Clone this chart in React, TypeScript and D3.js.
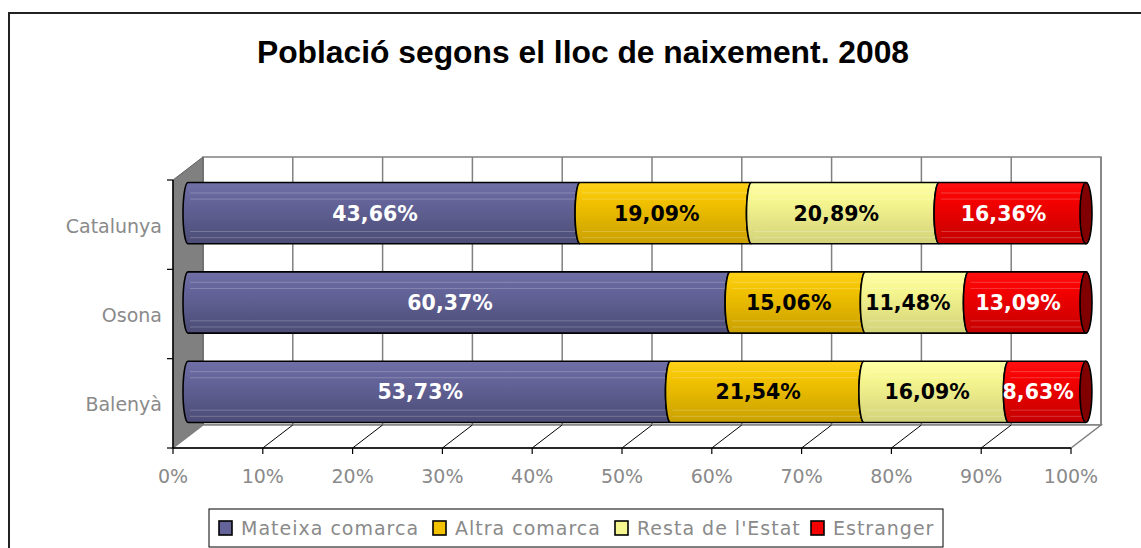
import * as d3 from "d3";

const categories = ["Catalunya", "Osona", "Balenyà"];
const seriesNames = ["Mateixa comarca", "Altra comarca", "Resta de l'Estat", "Estranger"];
const mateixaComarca = [43.66, 60.37, 53.73];
const altraComarca = [19.09, 15.06, 21.54];
const restaEstat = [20.89, 11.48, 16.09];
const estranger = [16.36, 13.09, 8.63];
const xTicks = [0, 10, 20, 30, 40, 50, 60, 70, 80, 90, 100];

// face colours: [top, mid, bottom, end cap, label]
const palette = [
  ["#7070a6", "#64649a", "#4c4c76", "#3a3a5c", "#fff"],
  ["#ffd21a", "#f2c200", "#c9a000", "#8a6d00", "#000"],
  ["#ffffa6", "#f6f690", "#d2d27a", "#9a9a50", "#000"],
  ["#ff1010", "#f40000", "#c40000", "#800000", "#fff"],
];
const legendOffsets = [0, 214, 396, 592];

const W = 1141;
const H = 548;
const left = 173;
const right = 1071;
const top = 180;
const bottom = 448;
const depthX = 30;
const depthY = -23;
const capRx = 5;

export default function App() {
  const rows = categories.map((c, i) => ({
    category: c,
    [seriesNames[0]]: mateixaComarca[i],
    [seriesNames[1]]: altraComarca[i],
    [seriesNames[2]]: restaEstat[i],
    [seriesNames[3]]: estranger[i],
  }));
  const stack = d3.stack<any>().keys(seriesNames)(rows);

  const x = d3.scaleLinear([0, 100], [left, right]);
  const y = d3.scaleBand(categories, [top, bottom]);
  const barH = y.bandwidth() * 0.685;
  const midX = (v: number) => x(v) + depthX / 2;
  const midY = (c: string) => (y(c) ?? 0) + y.bandwidth() / 2 + depthY / 2;

  const segPath = (x0: number, x1: number, t: number, b: number, last: boolean) => {
    const ry = (b - t) / 2;
    return `M${x0},${t}A${capRx},${ry} 0 0 0 ${x0},${b}L${x1},${b}A${capRx},${ry} 0 0 ${last ? 0 : 1} ${x1},${t}Z`;
  };

  const font = "'DejaVu Sans', Verdana, sans-serif";

  return (
    <svg width={W} height={H} style={{ position: "absolute", left: 0, top: 0, display: "block", background: "#fff" }}>
      <defs>
        {palette.map((p, i) => (
          <linearGradient key={i} id={`g${i}`} x1="0" y1="0" x2="0" y2="1">
            <stop offset="0" stopColor={p[0]} />
            <stop offset="0.3" stopColor={p[1]} />
            <stop offset="1" stopColor={p[2]} />
          </linearGradient>
        ))}
      </defs>

      <path d={`M9,${H}V13H${W}`} fill="none" stroke="#222" strokeWidth={2} />

      <text x={583} y={63} textAnchor="middle" fontFamily="'Liberation Sans', Arial, sans-serif"
        fontWeight="bold" fontSize={31.8} fill="#000">Població segons el lloc de naixement. 2008</text>

      {/* back wall */}
      <rect x={left + depthX} y={top + depthY} width={right - left} height={bottom - top}
        fill="#fff" stroke="#808080" strokeWidth={1.5} />
      {xTicks.map(t => (
        <line key={t} x1={x(t) + depthX} x2={x(t) + depthX} y1={top + depthY} y2={bottom + depthY}
          stroke="#808080" strokeWidth={1.5} />
      ))}

      {/* side wall */}
      <polygon points={`${left},${top} ${left + depthX},${top + depthY} ${left + depthX},${bottom + depthY} ${left},${bottom}`}
        fill="#808080" stroke="#606060" strokeWidth={1} />

      {/* floor */}
      <polygon points={`${left},${bottom} ${left + depthX},${bottom + depthY} ${right + depthX},${bottom + depthY} ${right},${bottom}`}
        fill="#fff" stroke="#808080" strokeWidth={1.5} />
      {xTicks.slice(1, -1).map(t => (
        <line key={t} x1={x(t)} y1={bottom} x2={x(t) + depthX} y2={bottom + depthY} stroke="#000" strokeWidth={1} />
      ))}

      {/* axes */}
      <line x1={left} x2={right} y1={bottom} y2={bottom} stroke="#000" strokeWidth={1.5} />
      <line x1={left} x2={left} y1={top} y2={bottom} stroke="#000" strokeWidth={1.5} />
      {xTicks.map(t => (
        <g key={t}>
          <line x1={x(t)} x2={x(t)} y1={bottom} y2={bottom + 6} stroke="#000" strokeWidth={1.2} />
          <text x={x(t)} y={483} textAnchor="middle" fontFamily={font} fontSize={19} fill="#8a8a8a">{t}%</text>
        </g>
      ))}
      {[...categories.map(c => y(c) ?? 0), bottom].map((v, i) => (
        <line key={i} x1={left - 6} x2={left} y1={v} y2={v} stroke="#000" strokeWidth={1.2} />
      ))}
      {categories.map(c => (
        <text key={c} x={162} y={(y(c) ?? 0) + y.bandwidth() / 2 + 8} textAnchor="end"
          fontFamily={font} fontSize={19} fill="#8a8a8a">{c}</text>
      ))}

      {/* bars */}
      {categories.map((c, ci) => {
        const cy = midY(c);
        const t = cy - barH / 2;
        const b = cy + barH / 2;
        return (
          <g key={c}>
            {stack.map((s, si) => {
              const [v0, v1] = s[ci];
              const x0 = midX(v0);
              const x1 = midX(Math.min(v1, 100));
              const last = si === stack.length - 1;
              return (
                <g key={si}>
                  <path d={segPath(x0, x1, t, b, last)} fill={`url(#g${si})`} stroke="#000" strokeWidth={1.6} />
                  {[0.17, 0.27, 0.8, 0.9].map(f => (
                    <line key={f} x1={x0 + 2} x2={x1 - 2} y1={t + f * barH} y2={t + f * barH}
                      stroke="#fff" strokeOpacity={0.22} strokeWidth={1} />
                  ))}
                  {last && (
                    <ellipse cx={x1} cy={cy} rx={capRx + 1} ry={barH / 2} fill={palette[si][3]} stroke="#000" strokeWidth={1.6} />
                  )}
                </g>
              );
            })}
            {stack.map((s, si) => {
              const [v0, v1] = s[ci];
              return (
                <text key={`l${si}`} x={(x(v0) + x(Math.min(v1, 100))) / 2 + 6} y={cy + 7.5} textAnchor="middle"
                  fontFamily={font} fontWeight="bold" fontSize={20.5} fill={palette[si][4]}>
                  {d3.format(".2f")(v1 - v0).replace(".", ",")}%
                </text>
              );
            })}
          </g>
        );
      })}

      {/* legend */}
      <rect x={209} y={509} width={734} height={38} fill="#fff" stroke="#000" strokeWidth={1} />
      {seriesNames.map((n, i) => (
        <g key={n} transform={`translate(${219 + legendOffsets[i]},521)`}>
          <rect width={13} height={14} fill={palette[i][1]} stroke="#000" strokeWidth={1.6} />
          <text x={22} y={14} fontFamily={font} fontSize={19} letterSpacing={1} fill="#8a8a8a">{n}</text>
        </g>
      ))}
    </svg>
  );
}
